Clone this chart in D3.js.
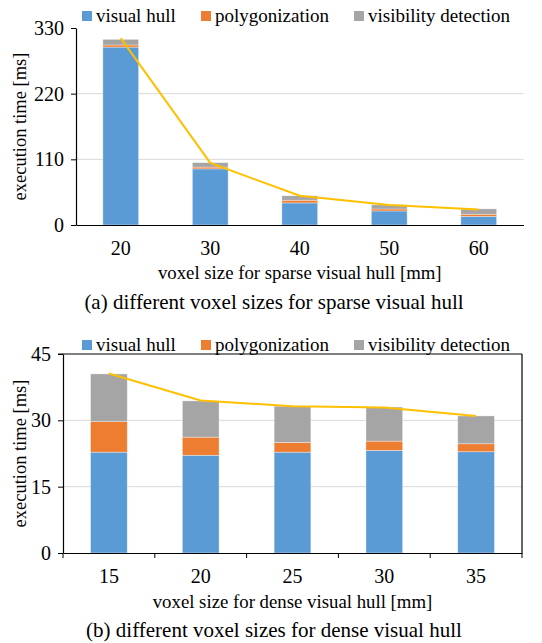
<!DOCTYPE html>
<html>
<head>
<meta charset="utf-8">
<script src="https://cdn.jsdelivr.net/npm/d3@7"></script>
<style>
  * { font-family: "Times New Roman", Tinos, "Liberation Serif", "Nimbus Roman", FreeSerif !important; }
</style>
</head>
<body style="margin:0">
<svg id="chart" width="542" height="643"></svg>
<script>
const FONT = '"Times New Roman", Tinos, "Liberation Serif", "Nimbus Roman", FreeSerif';

const series = ["visual hull", "polygonization", "visibility detection"];
const colors = ["#5b9bd5", "#ed7d31", "#a5a5a5"];

// (a) sparse visual hull
const sizesA = ["20", "30", "40", "50", "60"];
const hullA = [298, 94, 37, 23.5, 14.5];
const polyA = [3.5, 3, 4.5, 3.3, 3.5];
const visA = [9.5, 7.5, 7.5, 7, 9];
const totalA = [313, 104, 49, 33.5, 26];
const ticksA = [0, 110, 220, 330];

// (b) dense visual hull
const sizesB = ["15", "20", "25", "30", "35"];
const hullB = [22.8, 22.1, 22.8, 23.2, 22.9];
const polyB = [6.9, 4.1, 2.2, 2.1, 1.8];
const visB = [10.8, 8.2, 8.2, 7.7, 6.3];
const totalB = [40.6, 34.5, 33.2, 32.9, 31.0];
const ticksB = [0, 15, 30, 45];

const svg = d3.select("#chart");

function serif(sel, size) {
  return sel.style("font-family", FONT).attr("font-size", size).attr("fill", "#000");
}

function panel(cfg) {
  const g = svg.append("g");
  const x = d3.scaleBand().domain(cfg.cats).range([cfg.left, cfg.right]).paddingInner(0.6).paddingOuter(0.3);
  const y = d3.scaleLinear().domain([0, cfg.max]).range([cfg.bottom, cfg.top]);

  // gridlines
  g.append("g")
    .selectAll("line")
    .data(cfg.ticks.filter(t => t > 0 && t < cfg.max))
    .enter().append("line")
    .attr("x1", cfg.left).attr("x2", cfg.right)
    .attr("y1", d => y(d)).attr("y2", d => y(d))
    .attr("stroke", "#d9d9d9");

  // stacked bars
  const rows = cfg.cats.map((c, i) => ({cat: c, s0: cfg.hull[i], s1: cfg.poly[i], s2: cfg.vis[i]}));
  const stack = d3.stack().keys(["s0", "s1", "s2"])(rows);
  g.selectAll(".layer")
    .data(stack)
    .enter().append("g")
    .attr("fill", (d, i) => colors[i])
    .selectAll("rect")
    .data(d => d)
    .enter().append("rect")
    .attr("x", d => x(d.data.cat))
    .attr("width", x.bandwidth())
    .attr("y", d => y(d[1]))
    .attr("height", d => y(d[0]) - y(d[1]))
    .attr("stroke", "#fff").attr("stroke-opacity", 0.5).attr("stroke-width", 0.7);

  // total line
  const line = d3.line().x((d, i) => x(cfg.cats[i]) + x.bandwidth() / 2).y(d => y(d));
  g.append("path")
    .attr("d", line(cfg.total))
    .attr("fill", "none")
    .attr("stroke", "#ffc000")
    .attr("stroke-width", 2);

  // y axis
  const yAxis = g.append("g")
    .attr("transform", `translate(${cfg.left},0)`)
    .call(d3.axisLeft(y).tickValues(cfg.ticks).tickSize(5).tickPadding(7).tickSizeOuter(0))
    .attr("font-family", null);
  yAxis.select(".domain").attr("stroke", "#000").attr("stroke-width", 1.2);
  yAxis.selectAll(".tick line").attr("stroke", "#000");
  serif(yAxis.selectAll("text"), 20);

  // x axis
  const xAxis = g.append("g")
    .attr("transform", `translate(0,${cfg.bottom})`)
    .call(d3.axisBottom(x).tickSize(0).tickPadding(16).tickSizeOuter(0))
    .attr("font-family", null);
  xAxis.select(".domain").attr("stroke", "#000").attr("stroke-width", 1.2);
  serif(xAxis.selectAll("text"), 20);

  if (cfg.frame) {
    // category boundary ticks and a box around the plot
    const bounds = cfg.cats.map(c => x(c) - x.step() * 0.3).concat([cfg.right]);
    g.selectAll(".bt").data(bounds).enter().append("line")
      .attr("x1", d => d).attr("x2", d => d)
      .attr("y1", cfg.bottom).attr("y2", cfg.bottom + 5)
      .attr("stroke", "#000");
    g.append("line").attr("x1", cfg.left - 5).attr("x2", cfg.right)
      .attr("y1", cfg.top).attr("y2", cfg.top).attr("stroke", "#000").attr("stroke-width", 1.2);
    g.append("line").attr("x1", cfg.right).attr("x2", cfg.right)
      .attr("y1", cfg.top).attr("y2", cfg.bottom).attr("stroke", "#000").attr("stroke-width", 1.2);
  }

  // axis titles and caption
  serif(g.append("text"), 18.5)
    .attr("transform", `translate(26,${(cfg.top + cfg.bottom) / 2}) rotate(-90)`)
    .attr("text-anchor", "middle")
    .text("execution time [ms]");
  serif(g.append("text"), 18.8)
    .attr("x", (cfg.left + cfg.right) / 2).attr("y", cfg.titleY)
    .attr("text-anchor", "middle")
    .text(cfg.xTitle);
  serif(g.append("text"), 21)
    .attr("x", 274).attr("y", cfg.captionY)
    .attr("text-anchor", "middle")
    .text(cfg.caption);

  // legend
  const legX = [82, 201, 354];
  const leg = g.selectAll(".leg").data(series).enter().append("g")
    .attr("transform", (d, i) => `translate(${legX[i]},${cfg.legendY})`);
  leg.append("rect").attr("x", 0).attr("y", -5).attr("width", 10).attr("height", 10)
    .attr("fill", (d, i) => colors[i]);
  serif(leg.append("text"), 19).attr("x", 14).attr("y", 6).text(d => d);
}

panel({
  cats: sizesA, hull: hullA, poly: polyA, vis: visA, total: totalA, ticks: ticksA, max: 330,
  left: 76, right: 523.5, top: 28, bottom: 225, frame: false,
  legendY: 16, titleY: 279, captionY: 309,
  xTitle: "voxel size for sparse visual hull [mm]",
  caption: "(a) different voxel sizes for sparse visual hull"
});

panel({
  cats: sizesB, hull: hullB, poly: polyB, vis: visB, total: totalB, ticks: ticksB, max: 45,
  left: 63, right: 522, top: 354, bottom: 553, frame: true,
  legendY: 345, titleY: 608, captionY: 637,
  xTitle: "voxel size for dense visual hull [mm]",
  caption: "(b) different voxel sizes for dense visual hull"
});
</script>
</body>
</html>
